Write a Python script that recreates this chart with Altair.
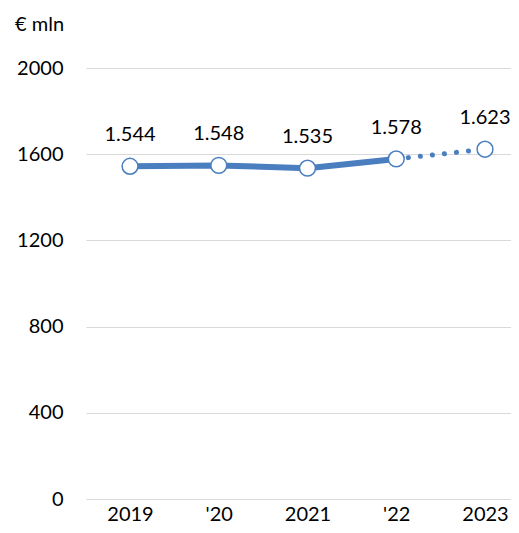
import altair as alt
import pandas as pd

years = ["2019", "'20", "2021", "'22", "2023"]
values = [1544, 1548, 1535, 1578, 1623]
segments = ["solid", "solid", "solid", "solid", "dotted"]
y_ticks = [0, 400, 800, 1200, 1600, 2000]
unit_label = "€ mln"

BLUE = "#4a7ebf"
FONT = "Lato"

rows = []
for i, (yr, v) in enumerate(zip(years, values)):
    rows.append({"i": i, "year": yr, "v": v})
df = pd.DataFrame(rows)

solid = pd.DataFrame([{"i": i, "v": values[i]} for i in range(len(values)) if segments[i] == "solid"])
dotted_idx = [i for i in range(len(values)) if segments[i] == "dotted"]
dotted = pd.DataFrame([{"i": j, "v": values[j]} for j in [dotted_idx[0] - 1] + dotted_idx])

label_expr = "[" + ",".join("'" + y.replace("'", "\\'") + "'" for y in years) + "][datum.value]"

x_enc = alt.X(
    "i:Q",
    scale=alt.Scale(domain=[-0.496, 4.293], nice=False, zero=False),
    axis=alt.Axis(values=list(range(len(years))), labelExpr=label_expr, title=None,
                  grid=False, domain=False, ticks=False, labelFontSize=20, labelFont=FONT,
                  labelColor="#000000", labelPadding=5),
)
y_enc = alt.Y(
    "v:Q",
    scale=alt.Scale(domain=[0, 2000], nice=False),
    axis=alt.Axis(values=y_ticks, format="d", title=None, grid=True, gridColor="#d9d9d9",
                  gridWidth=1, domain=False, ticks=False, labelFontSize=20, labelFont=FONT,
                  labelColor="#000000", labelPadding=23),
)

solid_line = alt.Chart(solid).mark_line(color=BLUE, strokeWidth=6).encode(x=x_enc, y=y_enc)
dotted_line = alt.Chart(dotted).mark_line(
    color=BLUE, strokeWidth=5, strokeDash=[0.1, 12], strokeCap="round"
).encode(x=x_enc, y=y_enc)
points = alt.Chart(df).mark_point(
    shape="circle", size=250, filled=True, fill="white", stroke=BLUE, strokeWidth=1.5, opacity=1
).encode(x=x_enc, y=y_enc)
labels = alt.Chart(df).transform_calculate(
    lab="replace(format(datum.v, ','), ',', '.')"
).mark_text(font=FONT, fontSize=20, dy=-31, color="#000000").encode(
    x=x_enc, y=y_enc, text="lab:N"
)
unit = alt.Chart(pd.DataFrame({"t": [unit_label]})).mark_text(
    font=FONT, fontSize=20, align="left", baseline="middle", color="#000000"
).encode(x=alt.value(-71), y=alt.value(-43), text="t:N")

chart = alt.layer(solid_line, dotted_line, points, labels, unit).properties(
    width=425, height=431,
    background="white",
    autosize=alt.AutoSizeParams(type="none"),
    padding={"left": 78, "top": 60, "right": 0, "bottom": 25},
).configure_view(strokeWidth=0).configure_axis(domain=False, ticks=False)

chart.save("out.html", embed_options={"renderer": "svg", "actions": False})
